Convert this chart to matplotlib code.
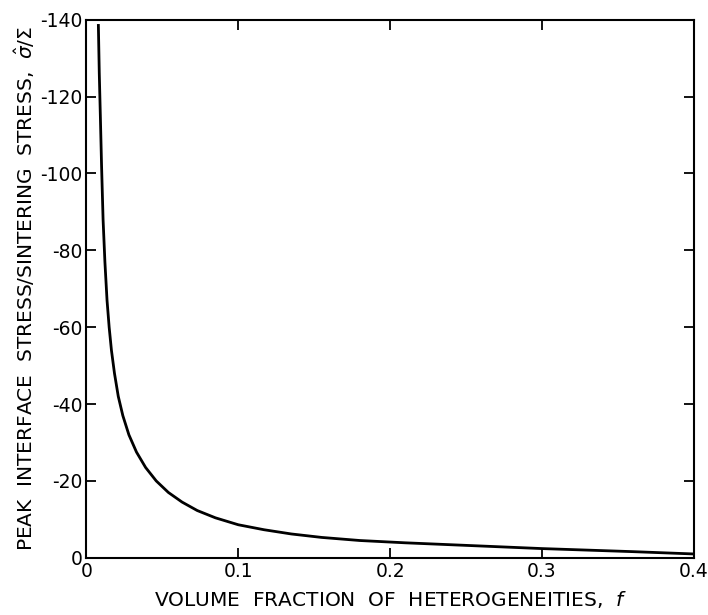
import matplotlib
matplotlib.use("Agg")
import matplotlib.pyplot as plt

# peak interface stress normalised by sintering stress vs volume fraction
frac = [0.0079, 0.0085, 0.0092, 0.0100, 0.0110, 0.0122, 0.0136, 0.0150,
        0.0165, 0.0185, 0.021, 0.024, 0.028, 0.033, 0.039, 0.046, 0.054,
        0.063, 0.073, 0.085, 0.100, 0.117, 0.135, 0.155, 0.180, 0.210,
        0.240, 0.270, 0.300, 0.330, 0.360, 0.400]
stress = [-138.5, -126.0, -115.0, -102.0, -88.0, -77.0, -67.0, -60.0,
          -54.0, -48.0, -42.0, -37.0, -32.0, -27.5, -23.5, -20.0, -17.0,
          -14.5, -12.3, -10.4, -8.6, -7.3, -6.2, -5.3, -4.5, -3.9,
          -3.4, -2.9, -2.4, -2.0, -1.6, -1.0]

x_ticks = [0, 0.1, 0.2, 0.3, 0.4]
x_labels = ["0", "0.1", "0.2", "0.3", "0.4"]
y_ticks = [0, -20, -40, -60, -80, -100, -120, -140]

plt.rcParams["axes.unicode_minus"] = False
plt.rcParams["font.family"] = "DejaVu Sans"

fig = plt.figure(figsize=(7.08, 6.15), dpi=100)
ax = fig.add_axes([0.122, 0.093, 0.858, 0.875])

ax.plot(frac, stress, color="black", lw=2.0, solid_joinstyle="round")

ax.set_xlim(0, 0.4)
ax.set_ylim(0, -140)
ax.set_xticks(x_ticks)
ax.set_xticklabels(x_labels)
ax.set_yticks(y_ticks)

for s in ax.spines.values():
    s.set_linewidth(1.5)

ax.tick_params(direction="in", length=7, width=1.3, top=True, right=True,
               labelsize=13.5, pad=3)

ax.set_xlabel(r"VOLUME  FRACTION  OF  HETEROGENEITIES,  $f$", fontsize=14.5,
              labelpad=6)
ax.set_ylabel(r"PEAK  INTERFACE  STRESS/SINTERING  STRESS,  $\hat{\sigma}/\Sigma$",
              fontsize=14.5, labelpad=2)

fig.savefig("out.png", dpi=100, facecolor="white")
